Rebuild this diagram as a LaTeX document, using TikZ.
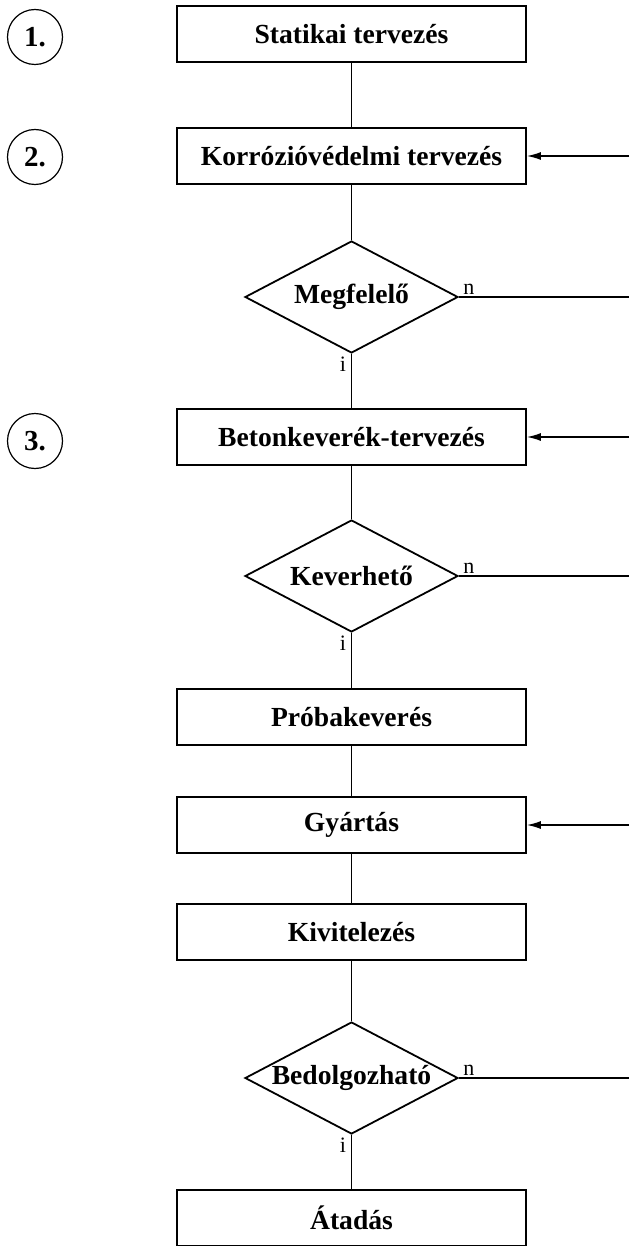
\documentclass[tikz,border=0pt]{standalone}
\usepackage{fontspec}
\setmainfont{Liberation Serif}
\usetikzlibrary{shapes.geometric,arrows.meta}
\begin{document}
\begin{tikzpicture}[x=0.5pt,y=-0.5pt,
  every node/.style={font=\fontsize{13.8}{16}\selectfont\bfseries},
  stepbox/.style={draw,line width=0.9pt,rectangle,minimum width=174.5pt,minimum height=28pt,inner sep=0pt},
  decision/.style={draw,line width=0.9pt,diamond,minimum width=106.5pt,minimum height=56pt,inner sep=0pt,aspect=1.9},
  numcircle/.style={draw,line width=0.6pt,circle,minimum size=27.5pt,inner sep=0pt,font=\fontsize{14.5}{16}\selectfont\bfseries},
  conn/.style={line width=0.7pt},
  back/.style={line width=0.7pt,-{Latex[length=7pt,width=4pt]}},
  small/.style={font=\fontsize{11}{12}\selectfont,inner sep=0pt}]
\useasboundingbox (0,0) rectangle (629,1246);
% step boxes
\node[stepbox] (b1) at (351.5,34) {Statikai tervezés};
\node[stepbox] (b2) at (351.5,156) {Korrózióvédelmi tervezés};
\node[decision] (d1) at (351.5,297) {Megfelelő};
\node[stepbox] (b3) at (351.5,437) {Betonkeverék-tervezés};
\node[decision] (d2) at (351.5,576) {Keverhető};
\node[stepbox] (b4) at (351.5,717) {Próbakeverés};
\node[stepbox] (b5) at (351.5,825) {Gyártás};
\node[stepbox] (b6) at (351.5,932) {Kivitelezés};
\node[decision] (d3) at (351.5,1078) {Bedolgozható};
\node[stepbox] (b7) at (351.5,1218) {Átadás};
% numbered circles
\node[numcircle] (c1) at (35,37) {1.};
\node[numcircle] (c2) at (35,157) {2.};
\node[numcircle] (c3) at (35,441) {3.};
% main flow
\draw[conn] (b1) -- (b2);
\draw[conn] (b2) -- (d1);
\draw[conn] (d1) -- (b3);
\draw[conn] (b3) -- (d2);
\draw[conn] (d2) -- (b4);
\draw[conn] (b4) -- (b5);
\draw[conn] (b5) -- (b6);
\draw[conn] (b6) -- (d3);
\draw[conn] (d3) -- (b7);
% right side coordinates
\coordinate (r2) at (629,156);
\coordinate (r3) at (629,437);
\coordinate (r5) at (629,825);
\coordinate (n1) at (629,297);
\coordinate (n2) at (629,576);
\coordinate (n3) at (629,1078);
\draw[back] (r2) -- (b2.east);
\draw[back] (r3) -- (b3.east);
\draw[back] (r5) -- (b5.east);
\draw[conn] (d1.east) -- (n1);
\draw[conn] (d2.east) -- (n2);
\draw[conn] (d3.east) -- (n3);
% labels
\node[small,anchor=south west] (ln1) at ([xshift=2pt,yshift=1pt]d1.east) {n};
\node[small,anchor=south west] (ln2) at ([xshift=2pt,yshift=1pt]d2.east) {n};
\node[small,anchor=south west] (ln3) at ([xshift=2pt,yshift=1pt]d3.east) {n};
\node[small,anchor=north east] (li1) at ([xshift=-2.5pt,yshift=-1.5pt]d1.south) {i};
\node[small,anchor=north east] (li2) at ([xshift=-2.5pt,yshift=-1.5pt]d2.south) {i};
\node[small,anchor=north east] (li3) at ([xshift=-2.5pt,yshift=-1.5pt]d3.south) {i};
\end{tikzpicture}
\end{document}
